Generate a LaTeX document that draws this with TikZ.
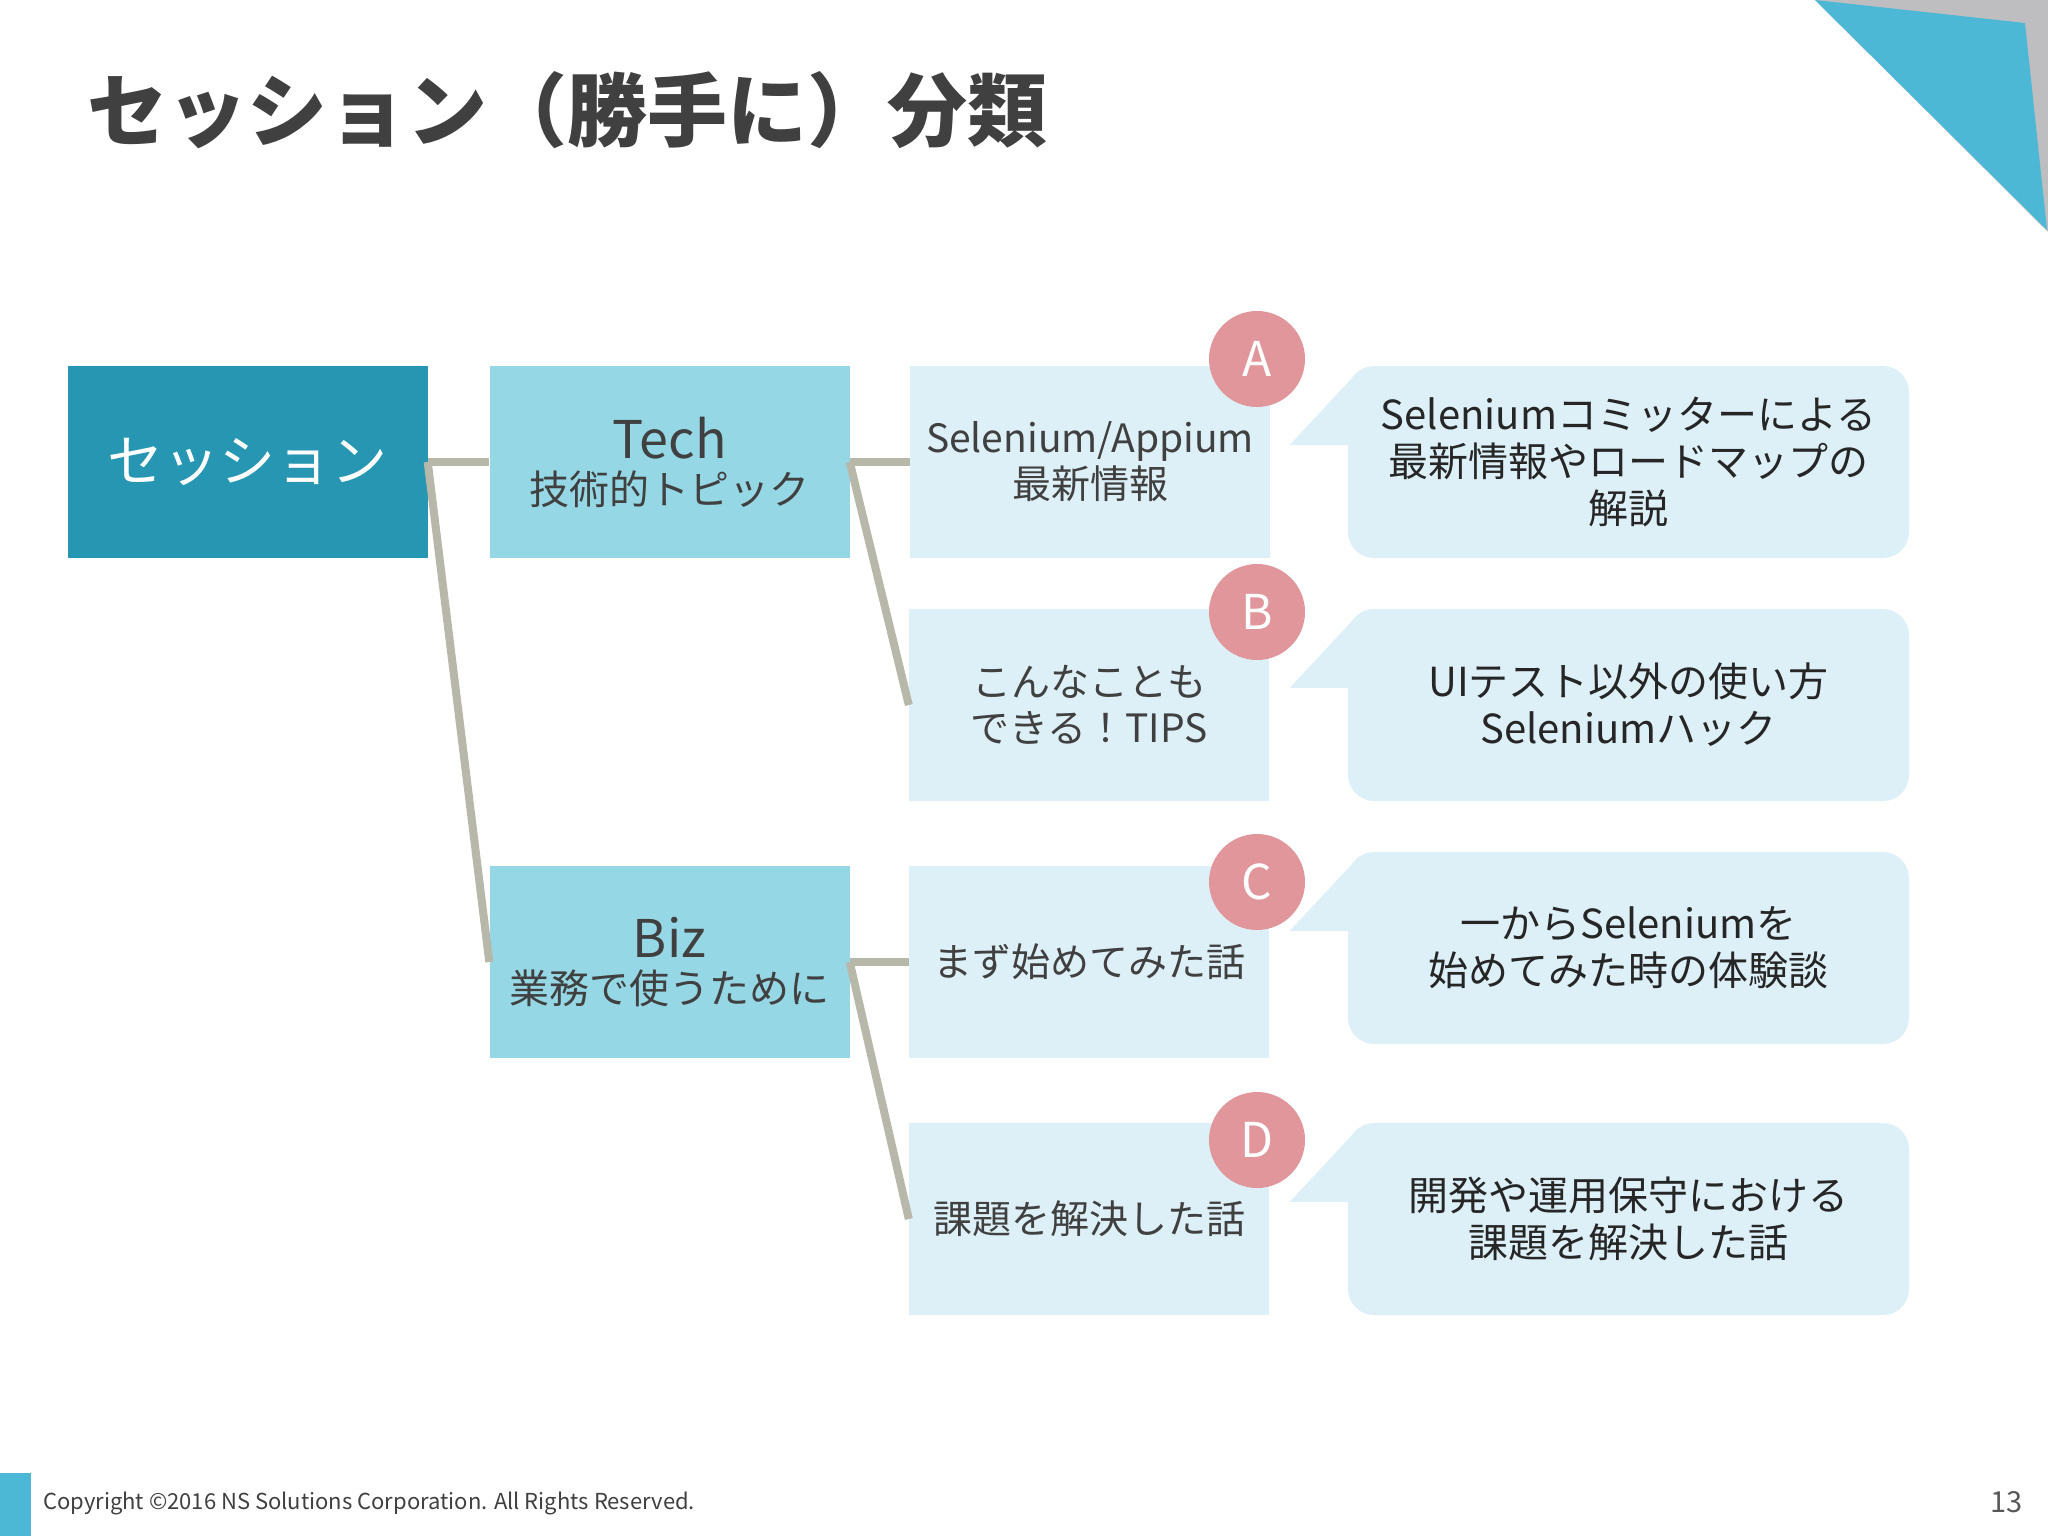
\documentclass[tikz,border=0pt]{standalone}
\usepackage{fontspec}
\setmainfont{Noto Sans CJK JP}
\usetikzlibrary{calc}
\definecolor{sessTeal}{RGB}{38,150,179}
\definecolor{sessSky}{RGB}{150,215,230}
\definecolor{sessPale}{RGB}{221,240,247}
\definecolor{sessPink}{RGB}{224,150,155}
\definecolor{sessLine}{RGB}{184,184,170}
\definecolor{sessCorner}{RGB}{77,184,214}
\definecolor{sessGray}{RGB}{190,190,192}
\definecolor{sessText}{RGB}{64,64,64}

\begin{document}
\begin{tikzpicture}[x=1pt, y=-1pt,
    root/.style={rectangle, fill=sessTeal, minimum width=360pt, minimum height=192pt, inner sep=0pt, text=white, font=\fontsize{56}{60}\selectfont},
    cat/.style={rectangle, fill=sessSky, minimum width=360pt, minimum height=192pt, inner sep=0pt, align=center, text=sessText, font=\fontsize{40}{46}\selectfont},
    topic/.style={rectangle, fill=sessPale, minimum width=360pt, minimum height=192pt, inner sep=0pt, align=center, text=sessText, font=\fontsize{39}{46}\selectfont},
    note/.style={rectangle, fill=sessPale, rounded corners=26pt, minimum width=561pt, minimum height=192pt, inner sep=0pt, align=center, text=black!85, font=\fontsize{40}{47}\selectfont},
    tag/.style={circle, fill=sessPink, minimum size=96pt, inner sep=0pt, text=white, font=\fontsize{48}{50}\selectfont},
    conn/.style={draw=sessLine, line width=8pt}
  ]
    \useasboundingbox[fill=white] (0,0) rectangle (2048,1536);

    % corner and footer decoration
    \fill[sessGray] (1815,0) -- (2048,0) -- (2048,232) -- cycle;
    \fill[sessCorner] (1815,0) -- (2025,23) -- (2047,230) -- cycle;
    \fill[sessCorner] (0,1473) rectangle (31,1536);

    \node[anchor=west, inner sep=0pt, text=sessText, font=\fontsize{80}{84}\selectfont\bfseries] (title) at (87,110) {セッション（勝手に）分類};

    \node[root] (sess) at (247.5,462) {セッション};
    \node[cat] (tech) at (669.5,462) {{\fontsize{52}{56}\selectfont Tech}\\技術的トピック};
    \node[cat] (biz) at (669.5,962) {{\fontsize{52}{56}\selectfont Biz}\\業務で使うために};

    \node[topic] (topA) at (1090,462) {Selenium/Appium\\最新情報};
    \node[topic] (topB) at (1089,705) {こんなことも\\できる！TIPS};
    \node[topic] (topC) at (1089,962) {まず始めてみた話};
    \node[topic] (topD) at (1089,1219) {課題を解決した話};

    \node[tag] (tagA) at (1257,359) {A};
    \node[tag] (tagB) at (1257,612) {B};
    \node[tag] (tagC) at (1257,882) {C};
    \node[tag] (tagD) at (1257,1140) {D};

    \node[note] (noteA) at (1628.5,462) {Seleniumコミッターによる\\最新情報やロードマップの\\解説};
    \node[note] (noteB) at (1628.5,705) {UIテスト以外の使い方\\Seleniumハック};
    \node[note] (noteC) at (1628.5,948) {一からSeleniumを\\始めてみた時の体験談};
    \node[note] (noteD) at (1628.5,1219) {開発や運用保守における\\課題を解決した話};

    % callout pointers
    \fill[sessPale] ($(noteA.north west)+(-58,79)$) -- ($(noteA.north west)+(10,79)$) -- ($(noteA.north west)+(10,6)$) -- cycle;
    \fill[sessPale] ($(noteB.north west)+(-58,79)$) -- ($(noteB.north west)+(10,79)$) -- ($(noteB.north west)+(10,6)$) -- cycle;
    \fill[sessPale] ($(noteC.north west)+(-58,79)$) -- ($(noteC.north west)+(10,79)$) -- ($(noteC.north west)+(10,6)$) -- cycle;
    \fill[sessPale] ($(noteD.north west)+(-58,79)$) -- ($(noteD.north west)+(10,79)$) -- ($(noteD.north west)+(10,6)$) -- cycle;

    \draw[conn] (sess.east) -- (tech.west);
    \draw[conn] (sess.east) -- (biz.west);
    \draw[conn] (tech.east) -- (topA.west);
    \draw[conn] (tech.east) -- (topB.west);
    \draw[conn] (biz.east) -- (topC.west);
    \draw[conn] (biz.east) -- (topD.west);

    \node[anchor=west, inner sep=0pt, text=sessText, font=\fontsize{22}{24}\selectfont] (copy) at (43,1503) {Copyright ©2016 NS Solutions Corporation. All Rights Reserved.};
    \node[anchor=east, inner sep=0pt, text=black!65, font=\fontsize{29}{32}\selectfont] (page) at (2023,1502) {13};
  \end{tikzpicture}
\end{document}
